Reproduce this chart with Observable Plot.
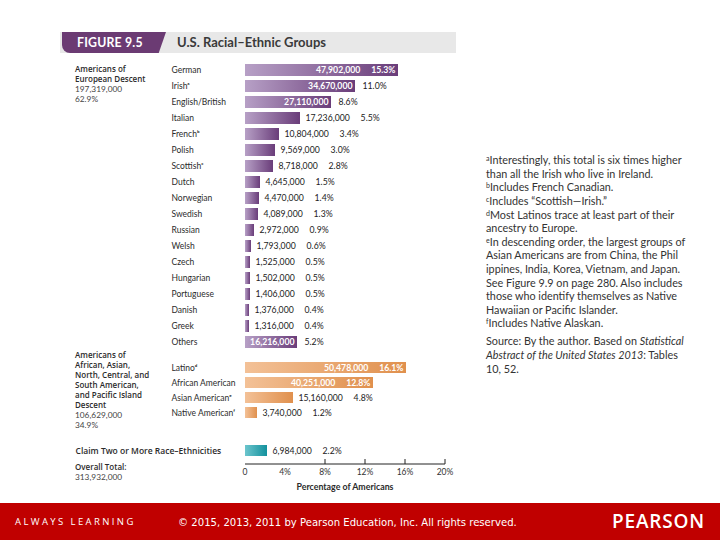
<!DOCTYPE html>
<html>
<head>
<meta charset="utf-8">
<script src="https://cdn.jsdelivr.net/npm/d3@7"></script>
<script src="https://cdn.jsdelivr.net/npm/@observablehq/plot@0.6"></script>
<style>
  body { margin: 0; background: #fff; font-family: Lato, "DejaVu Sans", sans-serif; }
  #page { position: relative; width: 720px; height: 540px; overflow: hidden; background: #fff; }
  .abs { position: absolute; white-space: nowrap; }
  .tab { background: #6b3b73; color: #fff; font-weight: 700; font-size: 12.3px; line-height: 21px; padding-left: 15px; box-sizing: border-box;
         clip-path: polygon(0 0, 100% 0, 93% 100%, 0 100%); border-bottom-left-radius: 8px; letter-spacing: 0.2px; }
  .grp { font-family: "Open Sans", sans-serif; font-size: 8px; line-height: 10px; font-weight: 600; color: #2b2b2b; }
  .num { font-size: 8.3px; line-height: 10px; color: #444; }
  .notes { font-size: 10.8px; line-height: 13.6px; color: #333; }
  .notes sup { font-size: 7px; vertical-align: 3px; line-height: 0; }
  .footer { left: 0; top: 503px; width: 720px; height: 37px; background: #c00000; z-index: 5; }
  .chart { position: absolute; left: 0; }
</style>
</head>
<body>
<div id="page">
  <div class="abs" style="left:60px;top:32px;width:396px;height:21px;background:#e8e8e8"></div>
  <div class="abs tab" style="left:62px;top:32px;width:104px;height:21px;">FIGURE 9.5</div>
  <div class="abs" style="left:177px;top:32px;height:21px;line-height:21px;font-size:13px;color:#3a3a3a;font-weight:700">U.S. Racial–Ethnic Groups</div>

  <div class="abs grp" style="left:75px;top:64px;">Americans of<br>European Descent</div>
  <div class="abs num" style="left:75px;top:84px;">197,319,000<br>62.9%</div>

  <div class="abs grp" style="left:75px;top:349.5px;">Americans of<br>African, Asian,<br>North, Central, and<br>South American,<br>and Pacific Island<br>Descent</div>
  <div class="abs num" style="left:75px;top:409.5px;">106,629,000<br>34.9%</div>

  <div class="abs grp" style="left:75px;top:461.5px;">Overall Total:</div>
  <div class="abs num" style="left:75px;top:472px;">313,932,000</div>

  <div class="abs notes" style="left:486px;top:153.2px;">
    <sup>a</sup>Interestingly, this total is six times higher<br>
    than all the Irish who live in Ireland.<br>
    <sup>b</sup>Includes French Canadian.<br>
    <sup>c</sup>Includes “Scottish—Irish.”<br>
    <sup>d</sup>Most Latinos trace at least part of their<br>
    ancestry to Europe.<br>
    <sup>e</sup>In descending order, the largest groups of<br>
    Asian Americans are from China, the Phil<br>
    ippines, India, Korea, Vietnam, and Japan.<br>
    See Figure 9.9 on page 280. Also includes<br>
    those who identify themselves as Native<br>
    Hawaiian or Pacific Islander.<br>
    <sup>f</sup>Includes Native Alaskan.
  </div>
  <div class="abs notes" style="left:486px;top:334px;line-height:14px;">
    Source: By the author. Based on <i>Statistical</i><br>
    <i>Abstract of the United States 2013</i>: Tables<br>
    10, 52.
  </div>

  <div id="c1" class="chart" style="top:62px"></div>
  <div id="c2" class="chart" style="top:359px"></div>
  <div id="c3" class="chart" style="top:443px"></div>

  <div class="abs footer">
    <div class="abs" style="left:15px;top:0;line-height:37px;font-family:'Open Sans',sans-serif;font-size:9.5px;letter-spacing:2.4px;color:#fff;">ALWAYS LEARNING</div>
    <div class="abs" style="left:178px;top:1px;line-height:37px;font-family:'DejaVu Sans',sans-serif;font-size:10.1px;color:#fff;">© 2015, 2013, 2011 by Pearson Education, Inc. All rights reserved.</div>
    <div class="abs" style="left:612px;top:0;line-height:37px;font-family:'Open Sans',sans-serif;font-size:19px;font-weight:600;letter-spacing:0.8px;color:#fff;">PEARSON</div>
  </div>
</div>

<script>
// ---- Data ----
const europeanGroups = ["German", "Irishᵃ", "English/British", "Italian", "Frenchᵇ", "Polish", "Scottishᶜ", "Dutch", "Norwegian", "Swedish", "Russian", "Welsh", "Czech", "Hungarian", "Portuguese", "Danish", "Greek", "Others"];
const europeanCounts = [47902000, 34670000, 27110000, 17236000, 10804000, 9569000, 8718000, 4645000, 4470000, 4089000, 2972000, 1793000, 1525000, 1502000, 1406000, 1376000, 1316000, 16216000];
const europeanPercents = [15.3, 11.0, 8.6, 5.5, 3.4, 3.0, 2.8, 1.5, 1.4, 1.3, 0.9, 0.6, 0.5, 0.5, 0.5, 0.4, 0.4, 5.2];

const otherGroups = ["Latinoᵈ", "African American", "Asian Americanᵉ", "Native Americanᶠ"];
const otherCounts = [50478000, 40251000, 15160000, 3740000];
const otherPercents = [16.1, 12.8, 4.8, 1.2];

const multiGroups = ["Claim Two or More Race–Ethnicities"];
const multiCounts = [6984000];
const multiPercents = [2.2];

const xTicks = [0, 4, 8, 12, 16, 20];
const xTickLabels = ["0", "4%", "8%", "12%", "16%", "20%"];
const xTickMarks = [8, 12, 16, 20];
const xAxisTitle = "Percentage of Americans";

// ---- Helpers ----
const FONT = "Lato, 'DejaVu Sans', sans-serif";
const fmtCount = d3.format(",");
const fmtPct = d3.format(".1f");
const GAP = "\u2003\u2002";

function rows(names, counts, pcts) {
  return names.map((name, i) => ({
    name, count: counts[i], pct: pcts[i],
    countText: fmtCount(counts[i]), pctText: fmtPct(pcts[i]) + "%"
  }));
}

function labelMode(d) {
  if (d.pct >= 12) return "both";
  if (d.pct >= 8 || d.name === "Others") return "count";
  return "out";
}

function gradientDefs(id, c0, c1) {
  return () => {
    const defs = d3.create("svg:defs");
    const g = defs.append("linearGradient").attr("id", id)
      .attr("x1", "0").attr("x2", "1").attr("y1", "0").attr("y2", "0");
    g.append("stop").attr("offset", "0%").attr("stop-color", c0);
    g.append("stop").attr("offset", "100%").attr("stop-color", c1);
    return defs.node();
  };
}

function axisMark(index, scales, values, dims) {
  const y0 = dims.height - dims.marginBottom + 5.5;
  const g = d3.create("svg:g");
  g.append("line")
    .attr("x1", scales.x(xTicks[0])).attr("x2", scales.x(xTicks[xTicks.length - 1]))
    .attr("y1", y0).attr("y2", y0).attr("stroke", "#222").attr("stroke-width", 1);
  g.selectAll("line.t").data(xTickMarks).join("line").attr("class", "t")
    .attr("x1", d => scales.x(d)).attr("x2", d => scales.x(d))
    .attr("y1", y0 - 5).attr("y2", y0).attr("stroke", "#222");
  g.selectAll("text.l").data(xTicks).join("text").attr("class", "l")
    .attr("x", d => scales.x(d)).attr("y", y0 + 9)
    .attr("text-anchor", "middle").attr("dominant-baseline", "middle")
    .attr("font-size", 8.5).attr("fill", "#333")
    .text((d, i) => xTickLabels[i]);
  g.append("text")
    .attr("x", (scales.x(xTicks[0]) + scales.x(xTicks[xTicks.length - 1])) / 2).attr("y", y0 + 24)
    .attr("text-anchor", "middle").attr("dominant-baseline", "middle")
    .attr("font-size", 8.8).attr("font-weight", 700).attr("fill", "#2b2b2b")
    .text(xAxisTitle);
  return g.node();
}

function barChart({data, gradId, colors, height, labelDx = -74, labelWeight = "normal", labelFont = FONT, marginBottom = 0, extra = []}) {
  return Plot.plot({
    width: 720, height,
    marginLeft: 245, marginRight: 275, marginTop: 0, marginBottom,
    x: {domain: [xTicks[0], xTicks[xTicks.length - 1]], axis: null},
    y: {domain: data.map(d => d.name), axis: null, paddingInner: 0.24, paddingOuter: 0.12},
    style: {background: "transparent", fontFamily: FONT, overflow: "visible"},
    marks: [
      gradientDefs(gradId, colors[0], colors[1]),
      Plot.barX(data, {x: "pct", y: "name", fill: `url(#${gradId})`}),
      Plot.text(data, {y: "name", frameAnchor: "left", text: "name", dx: labelDx, textAnchor: "start",
        fontSize: 8.5, fill: "#2b2b2b", fontWeight: labelWeight, fontFamily: labelFont}),
      Plot.text(data.filter(d => labelMode(d) === "both"), {x: "pct", y: "name",
        text: d => d.countText + GAP + d.pctText, dx: -3, textAnchor: "end", fill: "white", fontWeight: "bold", fontSize: 8.7}),
      Plot.text(data.filter(d => labelMode(d) === "count"), {x: "pct", y: "name",
        text: "countText", dx: -3, textAnchor: "end", fill: "white", fontWeight: "bold", fontSize: 8.7}),
      Plot.text(data.filter(d => labelMode(d) === "count"), {x: "pct", y: "name",
        text: "pctText", dx: 7, textAnchor: "start", fill: "#222", fontSize: 8.7}),
      Plot.text(data.filter(d => labelMode(d) === "out"), {x: "pct", y: "name",
        text: d => d.countText + GAP + d.pctText, dx: 5, textAnchor: "start", fill: "#222", fontSize: 8.7}),
      ...extra
    ]
  });
}

document.getElementById("c1").append(barChart({
  data: rows(europeanGroups, europeanCounts, europeanPercents),
  gradId: "gEuro", colors: ["#b7a0c6", "#6a3d7a"], height: 288
}));

document.getElementById("c2").append(barChart({
  data: rows(otherGroups, otherCounts, otherPercents),
  gradId: "gOther", colors: ["#f3c197", "#e0904d"], height: 62
}));

document.getElementById("c3").append(barChart({
  data: rows(multiGroups, multiCounts, multiPercents),
  gradId: "gMulti", colors: ["#6cc5cd", "#13919d"], height: 65.5, marginBottom: 50,
  labelDx: -170, labelWeight: 600, labelFont: "'Open Sans', sans-serif",
  extra: [axisMark]
}));
</script>
</body>
</html>
